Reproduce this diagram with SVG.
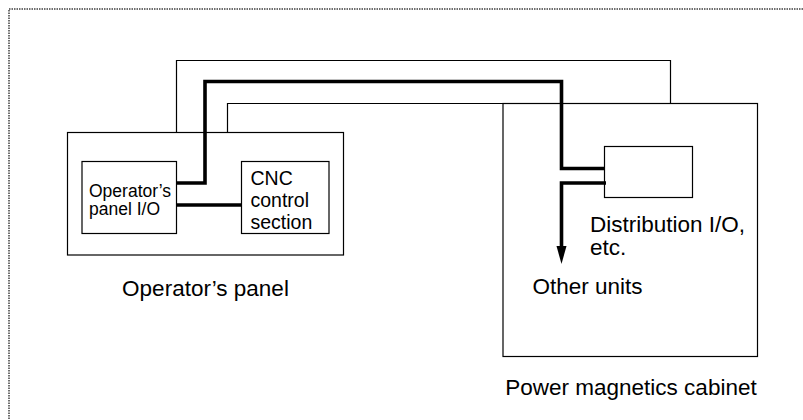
<svg xmlns="http://www.w3.org/2000/svg" width="803" height="420" viewBox="0 0 803 420">
<style>
.box{fill:none;stroke:#000;stroke-width:1.2}
.thin{fill:none;stroke:#000;stroke-width:1.2}
.thick{fill:none;stroke:#000;stroke-width:3.6}
text{font-family:"Liberation Sans",Arial,sans-serif;fill:#000}
.lg{font-size:22.5px}
.sm{font-size:17.5px}
.md{font-size:19.5px}
</style>
<rect x="9" y="9" width="800" height="420" fill="#fff" stroke="#6e6e6e" stroke-width="2" stroke-dasharray="1.5 1"/>
<g id="connectors">
<path class="thin" d="M176.5,132.5 V60.5 H670.5 V103.5"/>
<path class="thin" d="M227.5,132.5 V103.5 H503"/>
<path class="thick" d="M176.5,183 H205 V81.5 H561.5 V168.5 H605"/>
<path class="thick" d="M176.5,205 H241.5"/>
<path class="thick" d="M606,183 H561.5 V248"/>
<polygon points="556.5,246 566.5,246 561.5,264" fill="#000"/>
</g>
<g id="operators-panel">
<rect class="box" x="67.5" y="132.5" width="276" height="122.5"/>
<text class="lg" x="205.5" y="296" text-anchor="middle">Operator’s panel</text>
</g>
<g id="operators-panel-io">
<rect class="box" x="82" y="161.5" width="94.5" height="72"/>
<text class="sm" x="89" y="196.5">Operator’s</text>
<text class="sm" x="89" y="215">panel I/O</text>
</g>
<g id="cnc-control">
<rect class="box" x="241.5" y="161.5" width="87.5" height="72"/>
<text class="md" x="250.5" y="185">CNC</text>
<text class="md" x="250.5" y="206.5">control</text>
<text class="md" x="250.5" y="228.5">section</text>
</g>
<g id="power-magnetics-cabinet">
<rect class="box" x="503" y="103.5" width="254.5" height="253"/>
<text class="lg" x="631" y="394.5" text-anchor="middle">Power magnetics cabinet</text>
</g>
<g id="distribution-io">
<rect class="box" x="604.5" y="146.5" width="88" height="51"/>
<text class="lg" x="590" y="231.5">Distribution I/O,</text>
<text class="lg" x="590" y="254.5">etc.</text>
</g>
<g id="other-units">
<text class="lg" x="532.5" y="294">Other units</text>
</g>
</svg>
